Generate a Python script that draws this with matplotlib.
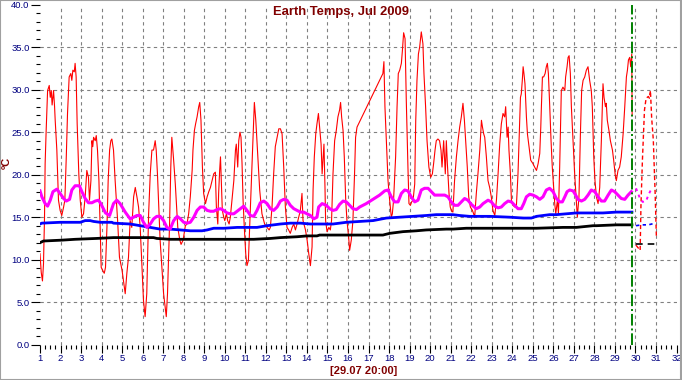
import matplotlib
matplotlib.use('Agg')
import matplotlib.pyplot as plt
from matplotlib.patches import Rectangle
from matplotlib.ticker import MultipleLocator, FormatStrFormatter

plt.rcParams['font.family'] = ['Liberation Sans', 'DejaVu Sans']

# day of month (1 = 1 Jul 00:00), temperature in C
red_pts = [
    (1.00, 10.7), (1.06, 8.5), (1.12, 7.5), (1.17, 9.5), (1.22, 15.0), (1.25, 21.3), (1.30, 25.2),
    (1.37, 29.9), (1.45, 30.5), (1.50, 29.1), (1.55, 29.9), (1.59, 28.2), (1.66, 29.9), (1.71, 28.0),
    (1.74, 26.4), (1.82, 22.9), (1.90, 17.0), (1.98, 15.8), (2.06, 15.2), (2.15, 16.2), (2.21, 17.0),
    (2.28, 22.1), (2.34, 27.2), (2.42, 31.5), (2.50, 31.9), (2.55, 31.1), (2.60, 32.3), (2.67, 32.1),
    (2.71, 33.1), (2.76, 31.5), (2.81, 26.0), (2.89, 20.1), (2.96, 17.0), (3.04, 15.0), (3.12, 15.4),
    (3.20, 17.4), (3.28, 20.5), (3.36, 19.7), (3.41, 17.0), (3.48, 19.3), (3.53, 24.0), (3.57, 23.3),
    (3.61, 24.4), (3.69, 24.0), (3.74, 24.6), (3.80, 22.9), (3.87, 19.3), (3.93, 13.8), (3.98, 9.1),
    (4.06, 8.7), (4.13, 8.4), (4.19, 9.1), (4.26, 13.8), (4.32, 19.3), (4.39, 22.9), (4.45, 24.0),
    (4.50, 24.2), (4.58, 22.9), (4.66, 19.3), (4.78, 14.6), (4.87, 10.3), (5.00, 8.7), (5.15, 6.0),
    (5.23, 8.4), (5.31, 10.3), (5.39, 14.6), (5.47, 13.8), (5.56, 17.4), (5.64, 18.5), (5.72, 17.4),
    (5.80, 16.2), (5.88, 13.8), (6.04, 5.2), (6.12, 3.3), (6.20, 6.0), (6.29, 15.4), (6.37, 20.1),
    (6.45, 22.9), (6.53, 22.9), (6.61, 24.0), (6.66, 22.9), (6.72, 20.1), (6.85, 12.3), (7.02, 6.0),
    (7.15, 3.3), (7.21, 6.0), (7.31, 14.2), (7.37, 20.9), (7.42, 24.4), (7.50, 22.0), (7.59, 18.9),
    (7.71, 13.8), (7.81, 12.3), (7.87, 11.8), (7.97, 12.3), (8.08, 14.0), (8.16, 14.2), (8.24, 15.4),
    (8.32, 17.4), (8.41, 20.5), (8.45, 22.9), (8.52, 25.2), (8.58, 26.0), (8.65, 26.8), (8.73, 28.0),
    (8.78, 28.5), (8.84, 26.4), (8.91, 20.9), (8.97, 17.8), (9.06, 16.6), (9.14, 17.4), (9.22, 18.0),
    (9.30, 18.5), (9.38, 19.3), (9.46, 20.1), (9.54, 20.3), (9.59, 16.2), (9.66, 14.2), (9.70, 17.8),
    (9.75, 20.5), (9.79, 22.1), (9.83, 19.3), (9.88, 15.8), (9.95, 15.0), (10.00, 14.6), (10.08, 15.4),
    (10.14, 14.6), (10.21, 14.2), (10.27, 15.0), (10.44, 19.3), (10.52, 22.9), (10.56, 23.6),
    (10.63, 20.9), (10.68, 24.0), (10.74, 25.0), (10.79, 24.4), (10.84, 21.3), (10.89, 17.0),
    (10.95, 13.8), (11.02, 10.7), (11.08, 9.3), (11.15, 9.9), (11.21, 13.8), (11.30, 19.3),
    (11.38, 24.8), (11.44, 28.5), (11.51, 26.4), (11.60, 22.5), (11.70, 18.2), (11.81, 15.4),
    (11.94, 14.2), (12.06, 13.8), (12.16, 13.5), (12.22, 13.8), (12.30, 16.2), (12.38, 20.1),
    (12.46, 23.3), (12.55, 24.4), (12.63, 25.4), (12.71, 25.4), (12.79, 24.8), (12.87, 20.9),
    (12.95, 16.2), (13.03, 13.8), (13.11, 13.5), (13.19, 13.1), (13.28, 13.8), (13.36, 14.2),
    (13.44, 13.5), (13.52, 14.2), (13.60, 15.0), (13.68, 15.8), (13.76, 17.8), (13.81, 14.6),
    (13.93, 13.5), (14.01, 12.3), (14.09, 10.7), (14.17, 9.3), (14.25, 11.5), (14.30, 18.2),
    (14.36, 22.1), (14.43, 24.8), (14.49, 26.0), (14.56, 27.2), (14.62, 25.6), (14.69, 23.6),
    (14.74, 20.1), (14.83, 23.6), (14.88, 18.5), (14.91, 14.6), (14.98, 13.3), (15.07, 13.8),
    (15.14, 13.5), (15.20, 14.6), (15.27, 20.1), (15.35, 24.0), (15.43, 25.2), (15.51, 26.8),
    (15.59, 27.6), (15.64, 28.5), (15.69, 26.8), (15.76, 25.2), (15.82, 22.1), (15.89, 17.0),
    (15.95, 14.6), (16.03, 12.7), (16.08, 11.1), (16.16, 12.3), (16.24, 14.6), (16.32, 20.1),
    (16.37, 24.4), (16.44, 25.6), (17.70, 31.9), (17.75, 33.3), (17.80, 28.0), (17.87, 24.0),
    (17.95, 19.3), (18.03, 17.0), (18.11, 15.0), (18.16, 15.4), (18.22, 17.0), (18.32, 22.1),
    (18.39, 28.0), (18.45, 31.9), (18.52, 32.3), (18.60, 33.1), (18.65, 34.6), (18.71, 36.7),
    (18.78, 36.0), (18.84, 28.7), (18.92, 20.9), (18.97, 16.6), (19.04, 16.4), (19.10, 16.8),
    (19.17, 17.0), (19.25, 18.9), (19.30, 26.4), (19.36, 31.1), (19.43, 34.2), (19.49, 35.0),
    (19.57, 36.8), (19.65, 35.4), (19.70, 31.9), (19.78, 28.0), (19.85, 24.0), (19.94, 20.9),
    (20.03, 19.7), (20.11, 20.1), (20.17, 21.3), (20.24, 22.9), (20.30, 24.0), (20.38, 24.2),
    (20.46, 24.0), (20.53, 22.9), (20.58, 20.9), (20.66, 24.0), (20.74, 20.1), (20.79, 24.0),
    (20.84, 21.3), (20.92, 17.8), (20.98, 16.2), (21.03, 15.8), (21.11, 15.6), (21.19, 19.3),
    (21.28, 22.1), (21.36, 24.0), (21.44, 25.6), (21.52, 26.8), (21.60, 28.4), (21.67, 26.4),
    (21.73, 24.0), (21.81, 20.9), (21.88, 17.4), (21.96, 16.2), (22.06, 15.8), (22.12, 15.4),
    (22.17, 15.0), (22.25, 17.8), (22.33, 20.1), (22.42, 22.9), (22.50, 26.4), (22.55, 25.6),
    (22.61, 24.8), (22.66, 24.4), (22.74, 22.1), (22.82, 19.3), (22.90, 18.5), (22.98, 17.4),
    (23.06, 15.8), (23.15, 15.2), (23.23, 17.0), (23.31, 20.1), (23.39, 23.6), (23.47, 26.0),
    (23.55, 27.2), (23.63, 26.8), (23.68, 28.0), (23.75, 24.4), (23.80, 25.6), (23.84, 22.9),
    (23.91, 20.1), (23.96, 17.0), (24.04, 16.4), (24.12, 16.2), (24.20, 16.2), (24.28, 20.1),
    (24.33, 24.0), (24.40, 29.1), (24.44, 29.5), (24.49, 31.1), (24.53, 32.7), (24.57, 31.9),
    (24.62, 30.7), (24.69, 26.8), (24.74, 24.8), (24.82, 23.3), (24.90, 21.7), (25.01, 21.3),
    (25.09, 20.9), (25.18, 20.5), (25.26, 21.3), (25.34, 22.5), (25.39, 25.6), (25.42, 28.0),
    (25.47, 31.5), (25.53, 31.5), (25.60, 31.9), (25.66, 32.7), (25.71, 33.1), (25.76, 31.9),
    (25.82, 28.4), (25.89, 24.0), (25.95, 20.9), (26.02, 18.5), (26.07, 16.6), (26.12, 15.4),
    (26.20, 17.0), (26.25, 15.4), (26.31, 20.9), (26.39, 29.9), (26.47, 30.3), (26.56, 29.9),
    (26.60, 31.5), (26.67, 32.7), (26.72, 33.8), (26.77, 34.0), (26.83, 31.9), (26.88, 28.0),
    (26.96, 24.0), (27.04, 20.1), (27.12, 17.0), (27.17, 15.0), (27.25, 17.4), (27.32, 24.8),
    (27.38, 29.9), (27.45, 31.1), (27.53, 31.5), (27.61, 32.3), (27.69, 32.7), (27.77, 31.1),
    (27.85, 29.9), (27.90, 28.0), (27.97, 22.1), (28.03, 19.3), (28.10, 17.4), (28.18, 16.6),
    (28.26, 18.5), (28.34, 24.0), (28.42, 30.7), (28.47, 29.1), (28.54, 28.0), (28.58, 28.4),
    (28.63, 26.4), (28.71, 25.2), (28.78, 24.0), (28.88, 22.9), (28.94, 21.7), (29.01, 20.1),
    (29.07, 19.3), (29.15, 20.5), (29.23, 20.9), (29.31, 22.1), (29.40, 24.8), (29.48, 28.0),
    (29.56, 31.5), (29.61, 32.3), (29.66, 33.5), (29.72, 33.8), (29.77, 32.7), (29.82, 34.2),
    (29.84, 27.0),
]
red_fc = [(30.03, 11.7), (30.23, 11.1), (30.27, 16.5), (30.34, 21.7), (30.44, 27.6), (30.52, 29.0),
          (30.63, 29.2), (30.68, 29.0), (30.73, 29.9), (30.79, 26.7), (30.87, 24.1), (30.96, 17.8),
          (31.02, 12.7)]

magenta_pts = [
    (1.00, 18.1), (1.09, 17.4), (1.25, 16.6), (1.37, 16.3), (1.50, 17.0), (1.63, 18.0), (1.82, 18.3),
    (1.98, 17.8), (2.15, 17.2), (2.28, 16.9), (2.44, 17.1), (2.55, 18.2), (2.71, 18.7), (2.92, 18.7),
    (3.04, 18.0), (3.20, 17.2), (3.36, 16.7), (3.53, 16.7), (3.69, 16.9), (3.85, 17.0), (3.96, 16.6),
    (4.19, 15.5), (4.39, 15.2), (4.58, 16.6), (4.74, 17.0), (4.90, 16.6), (5.15, 15.6), (5.39, 14.8),
    (5.56, 15.0), (5.72, 15.2), (5.88, 15.2), (6.04, 14.4), (6.20, 13.8), (6.37, 14.2), (6.53, 14.8),
    (6.69, 15.1), (6.85, 15.1), (7.02, 14.6), (7.18, 13.8), (7.34, 13.6), (7.51, 14.6), (7.68, 15.1),
    (7.84, 14.8), (8.00, 14.4), (8.16, 14.3), (8.32, 14.4), (8.49, 15.0), (8.65, 15.8), (8.81, 16.2),
    (8.97, 16.2), (9.14, 15.8), (9.30, 15.7), (9.46, 15.7), (9.62, 15.9), (9.79, 16.0), (9.95, 15.8),
    (10.11, 15.5), (10.27, 15.4), (10.44, 15.4), (10.60, 15.7), (10.76, 16.0), (10.92, 16.3),
    (11.08, 15.8), (11.25, 15.2), (11.41, 15.1), (11.57, 15.8), (11.73, 16.7), (11.90, 16.9),
    (12.06, 16.6), (12.22, 16.0), (12.38, 15.8), (12.55, 16.2), (12.71, 16.9), (12.87, 17.1),
    (13.03, 17.0), (13.19, 16.4), (13.36, 16.0), (13.52, 15.8), (13.68, 15.6), (13.84, 15.6),
    (14.01, 15.4), (14.17, 15.2), (14.33, 14.8), (14.49, 15.0), (14.57, 16.2), (14.74, 16.6),
    (14.94, 16.4), (15.11, 16.0), (15.27, 15.8), (15.43, 15.9), (15.59, 16.5), (15.76, 16.9),
    (15.92, 16.8), (16.08, 16.4), (16.24, 16.0), (16.41, 15.9), (16.57, 16.2), (16.89, 16.6),
    (17.22, 17.1), (17.54, 17.6), (17.79, 18.1), (17.95, 18.2), (18.11, 17.4), (18.27, 16.8),
    (18.44, 16.8), (18.60, 17.8), (18.76, 18.2), (18.92, 18.1), (19.08, 17.4), (19.25, 16.8),
    (19.41, 17.0), (19.57, 18.2), (19.73, 18.4), (19.90, 18.4), (20.06, 18.0), (20.22, 17.6),
    (20.38, 17.6), (20.55, 17.6), (20.71, 17.6), (20.87, 17.4), (21.03, 16.8), (21.19, 16.4),
    (21.36, 16.4), (21.52, 16.8), (21.68, 17.2), (21.84, 17.0), (22.01, 16.5), (22.25, 16.0),
    (22.42, 16.2), (22.58, 16.6), (22.82, 17.0), (22.98, 16.8), (23.15, 16.3), (23.31, 16.1),
    (23.47, 16.2), (23.63, 16.6), (23.80, 16.9), (23.96, 16.8), (24.12, 16.4), (24.28, 16.0),
    (24.44, 16.0), (24.56, 16.6), (24.69, 17.4), (24.85, 17.7), (25.01, 17.6), (25.18, 17.4),
    (25.34, 17.1), (25.50, 17.4), (25.66, 18.2), (25.82, 18.4), (25.99, 18.0), (26.15, 17.2),
    (26.31, 16.8), (26.44, 16.8), (26.56, 17.4), (26.67, 18.0), (26.80, 18.2), (26.96, 18.1),
    (27.09, 17.6), (27.20, 17.1), (27.37, 16.9), (27.53, 17.1), (27.69, 17.6), (27.85, 18.2),
    (28.02, 18.0), (28.18, 17.4), (28.34, 16.9), (28.50, 16.9), (28.67, 17.6), (28.83, 18.2),
    (28.99, 18.0), (29.15, 17.6), (29.31, 17.2), (29.48, 17.1), (29.64, 17.6), (29.80, 18.0),
]
magenta_fc = [(30.03, 18.4), (30.19, 17.4), (30.35, 16.8), (30.52, 16.9), (30.63, 17.6), (30.79, 18.4)]

blue_pts = [
    (1.00, 14.2), (1.09, 14.3), (1.98, 14.4), (2.96, 14.4), (3.20, 14.6), (3.44, 14.6), (3.61, 14.5),
    (3.93, 14.4), (4.50, 14.4), (4.58, 14.3), (5.39, 14.2), (5.64, 14.1), (5.88, 14.0), (6.37, 13.8),
    (6.85, 13.6), (7.34, 13.6), (7.84, 13.5), (8.32, 13.4), (8.89, 13.4), (9.14, 13.5), (9.46, 13.7),
    (9.95, 13.7), (10.60, 13.8), (11.57, 13.8), (12.06, 14.0), (12.71, 14.2), (13.19, 14.3),
    (13.68, 14.3), (14.17, 14.2), (14.57, 14.2), (15.27, 14.2), (15.92, 14.4), (16.57, 14.5),
    (17.22, 14.6), (17.87, 14.9), (18.52, 15.0), (19.17, 15.1), (19.81, 15.2), (20.30, 15.3),
    (21.11, 15.3), (21.44, 15.2), (21.93, 15.1), (22.90, 15.1), (23.88, 15.0), (24.53, 14.9),
    (24.93, 14.9), (25.18, 15.1), (25.82, 15.3), (26.15, 15.3), (27.12, 15.5), (28.42, 15.5),
    (29.07, 15.6), (29.40, 15.6), (29.83, 15.6),
]
blue_fc = [(30.03, 14.0), (30.30, 14.1), (30.63, 14.1), (30.96, 14.3)]

black_pts = [
    (1.00, 12.0), (1.17, 12.2), (2.06, 12.3), (2.71, 12.4), (3.74, 12.5), (4.58, 12.6), (6.53, 12.6),
    (6.69, 12.5), (7.35, 12.4), (8.97, 12.4), (10.60, 12.4), (11.41, 12.4), (12.22, 12.5),
    (12.71, 12.6), (13.52, 12.7), (14.01, 12.8), (14.49, 12.8), (14.62, 12.9), (16.24, 12.9),
    (17.70, 12.9), (18.03, 13.1), (18.68, 13.3), (19.33, 13.4), (19.81, 13.5), (20.79, 13.6),
    (21.11, 13.6), (21.76, 13.7), (23.55, 13.7), (25.18, 13.7), (26.47, 13.8), (26.64, 13.8),
    (27.12, 13.8), (27.94, 14.0), (28.10, 14.0), (29.07, 14.1), (29.83, 14.1),
]
black_fc = [(30.03, 11.9), (30.96, 11.9)]

now_day = 29 + 20 / 24.0   # 29.07 20:00
y_major = [5, 10, 15, 20, 25, 30, 35]
x_major = list(range(2, 32))

fig = plt.figure(figsize=(6.82, 3.80), dpi=100)
ax = fig.add_axes([40 / 682, 35.3 / 380, 636.5 / 682, 340 / 380])
ax.set_xlim(1, 32)
ax.set_ylim(0, 40)

grid_kw = dict(color='#808080', lw=0.8, linestyle=(0, (3, 3)), zorder=1)
for v in y_major:
    ax.axhline(v, **grid_kw)
for v in x_major:
    ax.axvline(v, **grid_kw)

def xy(pts):
    return [p[0] for p in pts], [p[1] for p in pts]

ax.plot(*xy(red_pts), color='#ff0000', lw=0.8, zorder=2)
ax.plot(*xy(red_fc), color='#ff0000', lw=1.0, linestyle=(0, (3, 2)), zorder=2)
ax.plot(*xy(black_pts), color='black', lw=2.0, zorder=3)
ax.plot(*xy(black_fc), color='black', lw=1.2, linestyle=(0, (4, 3)), zorder=3)
ax.plot(*xy(blue_pts), color='#0000ff', lw=2.0, zorder=3)
ax.plot(*xy(blue_fc), color='#0000ff', lw=1.2, linestyle=(0, (2, 2)), zorder=3)
ax.plot(*xy(magenta_pts), color='#ff00ff', lw=2.2, zorder=4)
ax.plot(*xy(magenta_fc), color='#ff00ff', lw=1.4, linestyle=(0, (1.5, 2)), zorder=4)
ax.axvline(now_day, color='#008000', lw=1.4, linestyle=(0, (6, 1.5, 1, 1.5)), zorder=5)

ax.xaxis.set_major_locator(MultipleLocator(1))
ax.xaxis.set_minor_locator(MultipleLocator(0.25))
ax.yaxis.set_major_locator(MultipleLocator(5))
ax.yaxis.set_minor_locator(MultipleLocator(1))
ax.yaxis.set_major_formatter(FormatStrFormatter('%.1f'))
ax.tick_params(which='both', direction='out', color='black', width=0.8,
               labelcolor='#000080', labelsize=6.8)
ax.tick_params(axis='y', which='major', length=6.5, pad=1)
ax.tick_params(axis='y', which='minor', length=3)
ax.tick_params(axis='x', which='major', length=5.8, pad=1.2)
ax.tick_params(axis='x', which='minor', length=3)
for s in ax.spines.values():
    s.set_visible(False)

fig.text(340.7 / 682, 1 - 12 / 380, 'Earth Temps, Jul 2009', ha='center', va='center',
         fontsize=9.4, fontweight='bold', color='#800000')
fig.text(7 / 682, 1 - 163 / 380, 'ºC', ha='center', va='center', rotation=90,
         fontsize=8, fontweight='bold', color='#800000')
fig.text(364 / 682, 1 - 371 / 380, '[29.07 20:00]', ha='center', va='center',
         fontsize=8.0, fontweight='bold', color='#800000')

fig.add_artist(Rectangle((0, 0.4 / 380), 680.8 / 682, 379.6 / 380, transform=fig.transFigure,
                         fill=False, edgecolor='#a0a0a0', lw=1.5))

fig.savefig('out.png', dpi=100)
